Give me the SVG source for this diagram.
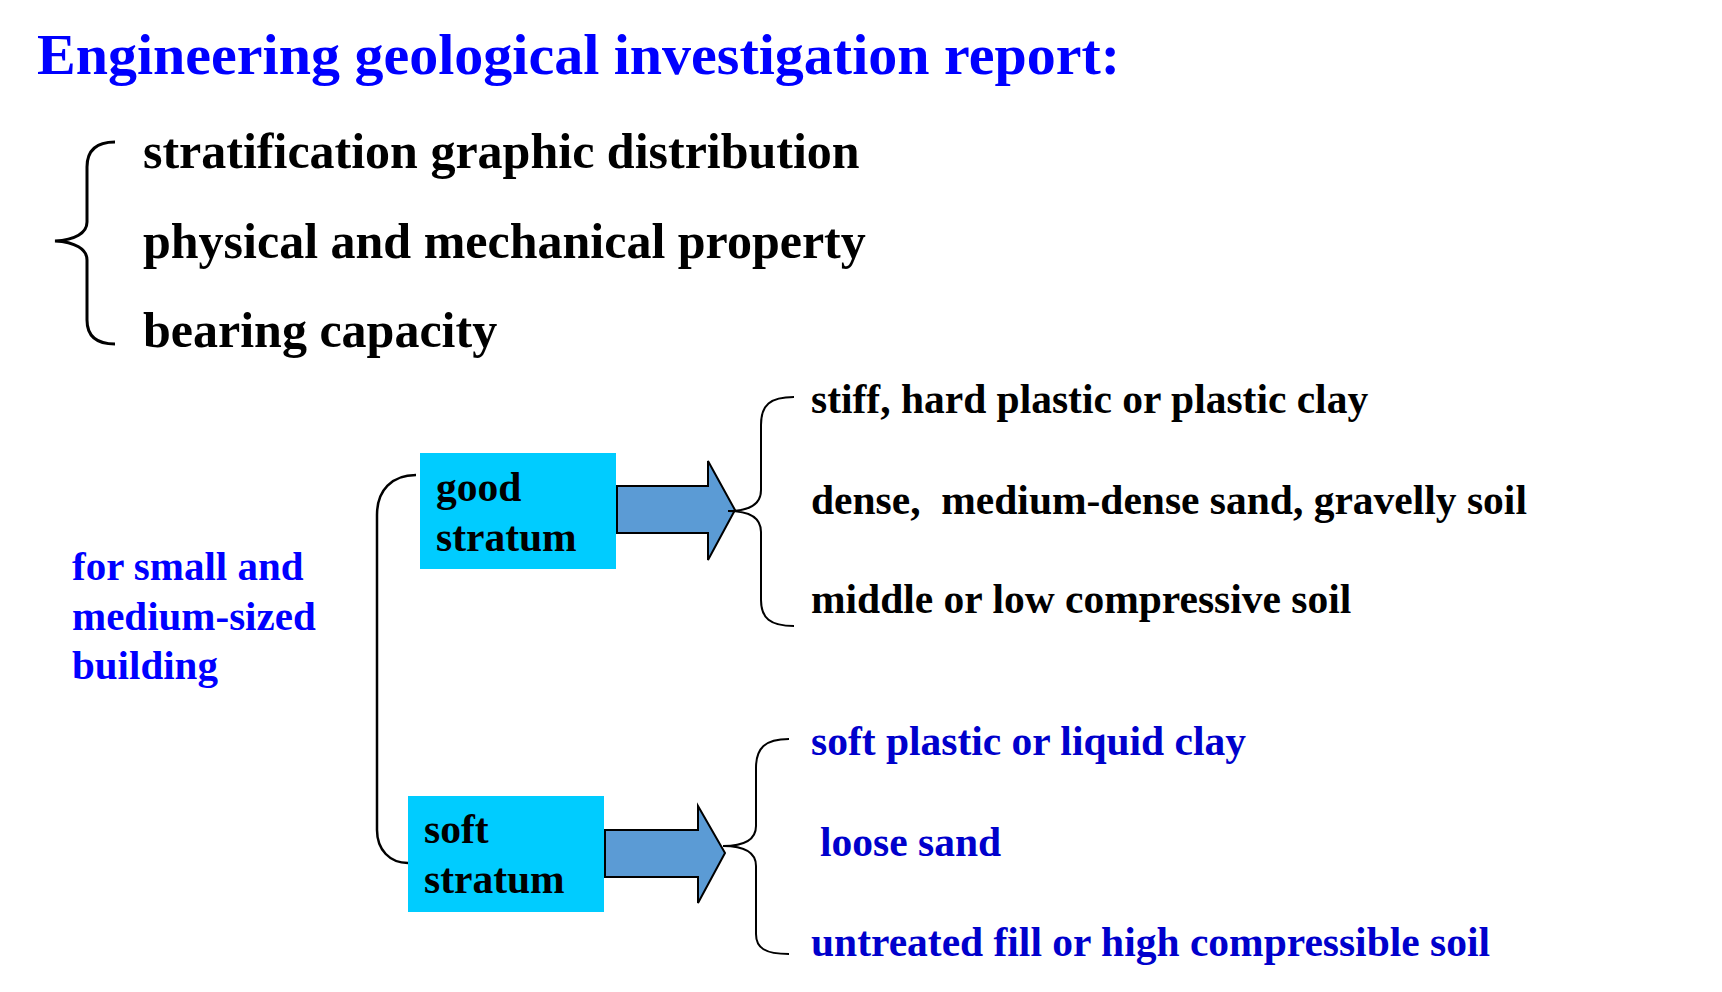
<svg xmlns="http://www.w3.org/2000/svg" width="1722" height="992" viewBox="0 0 1722 992">
<style>
text { font-family: "Liberation Serif", "Times New Roman", serif; font-weight: bold; }
.title { font-size: 58px; fill: #0000FF; }
.list { font-size: 50px; fill: #000000; }
.item { font-size: 41.5px; fill: #000000; }
.blue { font-size: 41.5px; fill: #0000CC; }
.side { font-size: 41px; fill: #0000FF; }
.box { fill: #00CCFF; }
.arrow { fill: #5B9BD5; stroke: #000000; stroke-width: 2; stroke-linejoin: miter; }
.brace { fill: none; stroke: #000000; stroke-width: 2; }
.brace-thick { fill: none; stroke: #000000; stroke-width: 3; }
</style>
<rect width="1722" height="992" fill="#FFFFFF"/>
<g id="title"><text class="title" x="37" y="74">Engineering geological investigation report:</text></g>
<g id="report-contents">
<path class="brace-thick" d="M115,142 C95,142 87,152 87,167 L87,222 C87,233 75,240 55,241 C75,242 87,249 87,260 L87,320 C87,335 95,344 115,344"/>
<text class="list" x="143" y="168">stratification graphic distribution</text>
<text class="list" x="143" y="258">physical and mechanical property</text>
<text class="list" x="143" y="347">bearing capacity</text>
</g>
<g id="building"><text class="side" x="72" y="580">for small and</text><text class="side" x="72" y="630">medium-sized</text><text class="side" x="72" y="679">building</text></g>
<g id="good-stratum"><rect class="box" x="420" y="453" width="196" height="116"/><text class="item" x="436" y="501">good</text><text class="item" x="436" y="551">stratum</text></g>
<g id="soft-stratum"><rect class="box" x="408" y="796" width="196" height="116"/><text class="item" x="424" y="843">soft</text><text class="item" x="424" y="893">stratum</text></g>
<g id="good-list">
<text class="item" x="811" y="413">stiff, hard plastic or plastic clay</text>
<text class="item" x="811" y="514" xml:space="preserve">dense,  medium-dense sand, gravelly soil</text>
<text class="item" x="811" y="613">middle or low compressive soil</text>
</g>
<g id="soft-list">
<text class="blue" x="811" y="755">soft plastic or liquid clay</text>
<text class="blue" x="820" y="856">loose sand</text>
<text class="blue" x="811" y="956">untreated fill or high compressible soil</text>
</g>
<g id="connectors">
<path class="brace-thick" d="M416,475 C392,475 377,490 377,515 L377,830 C377,850 390,863 408,863" style="stroke-width:2.5"/>
<polygon class="arrow" points="617,486 708,486 708,461 735,510 708,560 708,533 617,533"/>
<polygon class="arrow" points="605,830 698,830 698,806 725,853 698,903 698,877 605,877"/>
<path class="brace" d="M794,397 C770,397 761,405 761,425 L761,490 C761,505 748,511 728,511 C748,511 761,517 761,532 L761,600 C761,618 770,626 794,626"/>
<path class="brace" d="M789,739 C765,739 756,748 756,768 L756,826 C756,840 743,846 723,846 C743,846 756,852 756,866 L756,934 C756,948 765,954 789,954"/>
</g>
</svg>
